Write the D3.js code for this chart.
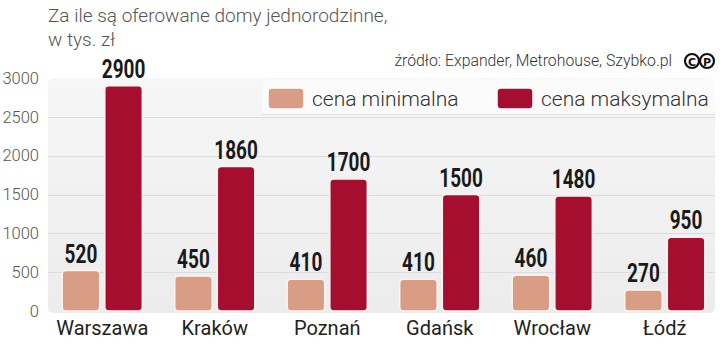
<!DOCTYPE html>
<html>
<head>
<meta charset="utf-8">
<script src="https://cdn.jsdelivr.net/npm/d3@7"></script>
<style>
  html, body { margin: 0; padding: 0; background: #ffffff; }
  svg { display: block; }
</style>
</head>
<body>
<svg id="chart" width="720" height="345"></svg>
<script>
// Offered prices of single-family houses, thousands PLN
const cities = ["Warszawa", "Kraków", "Poznań", "Gdańsk", "Wrocław", "Łódź"];
const minPrice = [520, 450, 410, 410, 460, 270];
const maxPrice = [2900, 1860, 1700, 1500, 1480, 950];
const seriesNames = ["cena minimalna", "cena maksymalna"];
const yTicks = [0, 500, 1000, 1500, 2000, 2500, 3000];

const colors = ["#d99c85", "#a50e2e"];
const svg = d3.select("#chart");

const plot = { left: 48, right: 715, top: 78, bottom: 313 };

const y = d3.scaleLinear().domain([0, 3000]).range([311, 78]);
const x0 = d3.scaleBand().domain(cities).range([46, 721]).paddingInner(0).paddingOuter(0);
const x1 = d3.scaleBand().domain([0, 1]).range([0, x0.bandwidth()]).paddingInner(0.12).paddingOuter(0.38);

// background panel
const defs = svg.append("defs");
const grad = defs.append("linearGradient").attr("id", "panelGrad")
  .attr("x1", 0).attr("y1", 0).attr("x2", 0).attr("y2", 1);
grad.append("stop").attr("offset", "0%").attr("stop-color", "#f6f6f6");
grad.append("stop").attr("offset", "100%").attr("stop-color", "#ececec");

svg.append("rect")
  .attr("x", plot.left).attr("y", plot.top)
  .attr("width", plot.right - plot.left).attr("height", plot.bottom - plot.top)
  .attr("rx", 6).attr("fill", "url(#panelGrad)");

// gridlines
svg.append("g").selectAll("line").data(yTicks.filter(d => d > 0 && d < 3000)).join("line")
  .attr("x1", plot.left).attr("x2", plot.right)
  .attr("y1", d => Math.round(y(d)) + 0.5).attr("y2", d => Math.round(y(d)) + 0.5)
  .attr("stroke", "#dcdcdc").attr("stroke-width", 1);

// y axis labels
const yAxis = d3.axisLeft(y).tickValues(yTicks).tickFormat(d3.format("d")).tickSize(0).tickPadding(0);
const gy = svg.append("g").attr("transform", "translate(39,0)").call(yAxis);
gy.select(".domain").remove();
gy.selectAll("text")
  .attr("fill", "#555")
  .style("font-family", "Roboto, 'Liberation Sans', sans-serif")
  .style("font-size", "16.5px").style("font-weight", 300);

// legend box
svg.append("rect")
  .attr("x", 262).attr("y", 79).attr("width", 453).attr("height", 35)
  .attr("rx", 5).attr("fill", "#fbfbfb");
svg.append("line")
  .attr("x1", 262).attr("x2", 715).attr("y1", 114.5).attr("y2", 114.5)
  .attr("stroke", "#e2e2e2");

const legendX = [268, 497];
const legend = svg.append("g").selectAll("g").data(seriesNames).join("g")
  .attr("transform", (d, i) => `translate(${legendX[i]},88)`);
legend.append("rect")
  .attr("width", 36).attr("height", 21).attr("rx", 4)
  .attr("fill", (d, i) => colors[i]).attr("stroke", "#ffffff").attr("stroke-width", 1.5);
legend.append("text")
  .attr("x", 44).attr("y", 18)
  .attr("fill", "#333")
  .style("font-family", "Roboto, 'Liberation Sans', sans-serif")
  .style("font-size", "21px").style("font-weight", 300)
  .text(d => d);

// bars
const groups = svg.append("g").selectAll("g").data(cities).join("g")
  .attr("transform", d => `translate(${x0(d)},0)`);

groups.each(function(city, ci) {
  const vals = [minPrice[ci], maxPrice[ci]];
  const g = d3.select(this);
  g.selectAll("rect").data(vals).join("rect")
    .attr("x", (d, i) => x1(i))
    .attr("width", x1.bandwidth())
    .attr("y", d => y(d))
    .attr("height", d => y(0) - y(d))
    .attr("rx", 4)
    .attr("fill", (d, i) => colors[i])
    .attr("stroke", "#fff4ef").attr("stroke-width", 1.5);
  // condensed bold value labels
  g.selectAll("text.val").data(vals).join("text")
    .attr("class", "val")
    .attr("transform", (d, i) => `translate(${x1(i) + x1.bandwidth() / 2},${y(d) - 8}) scale(0.76,1)`)
    .attr("text-anchor", "middle")
    .attr("fill", "#1a1a1a")
    .style("font-family", "Roboto, 'Liberation Sans', sans-serif")
    .style("font-size", "25px").style("font-weight", "bold")
    .text(d => d);
});

// category labels
const xAxis = d3.axisBottom(x0).tickSize(0).tickPadding(0);
const gx = svg.append("g").attr("transform", "translate(0,321)").call(xAxis);
gx.select(".domain").remove();
gx.selectAll("text")
  .attr("fill", "#222")
  .style("font-family", "Roboto, 'Liberation Sans', sans-serif")
  .style("font-size", "20px");

// title and source
const title = svg.append("text")
  .attr("x", 48).attr("fill", "#555")
  .style("font-family", "Roboto, 'Liberation Sans', sans-serif")
  .style("font-size", "19px").style("font-weight", 300);
title.append("tspan").attr("x", 48).attr("y", 22).text("Za ile są oferowane domy jednorodzinne,");
title.append("tspan").attr("x", 48).attr("y", 46).text("w tys. zł");

svg.append("text")
  .attr("x", 672).attr("y", 66).attr("text-anchor", "end")
  .attr("fill", "#333")
  .style("font-family", "Roboto, 'Liberation Sans', sans-serif")
  .style("font-size", "15.8px").style("font-weight", 300)
  .text("źródło: Expander, Metrohouse, Szybko.pl");

// copyright marks
const marks = svg.append("g").selectAll("g").data(["C", "P"]).join("g")
  .attr("transform", (d, i) => `translate(${692 + i * 15},61)`);
marks.append("circle").attr("r", 7).attr("fill", "none").attr("stroke", "#111").attr("stroke-width", 2.2);
marks.append("text").attr("text-anchor", "middle").attr("y", 4.5)
  .attr("fill", "#111")
  .style("font-family", "'DejaVu Sans', sans-serif").style("font-size", "11px").style("font-weight", "bold")
  .text(d => d);
</script>
</body>
</html>
